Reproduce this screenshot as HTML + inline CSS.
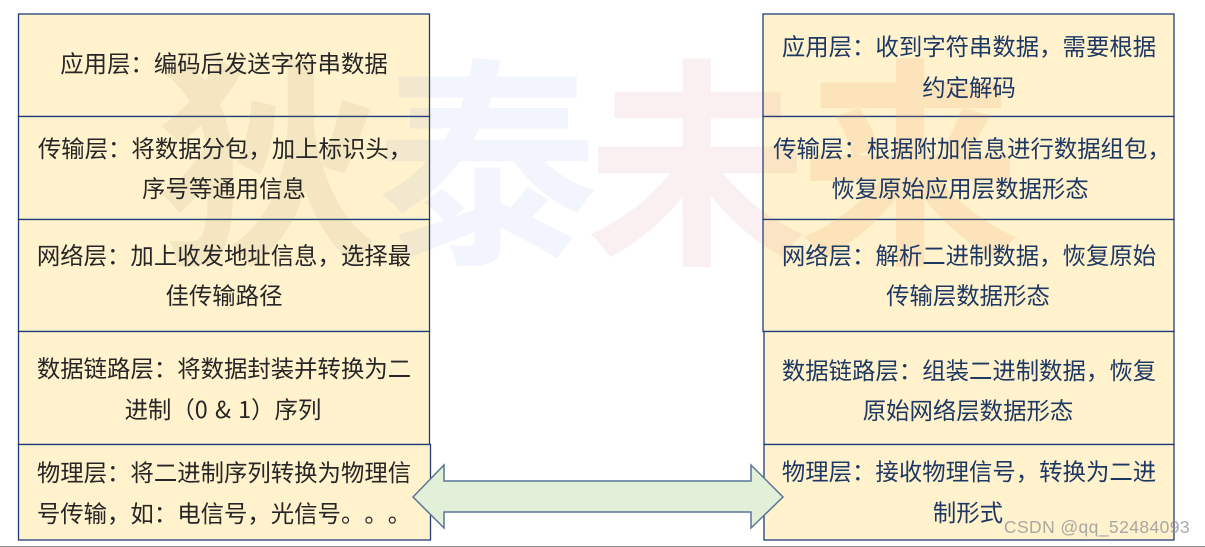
<!DOCTYPE html>
<html lang="zh-CN"><head><meta charset="utf-8"><style>
html,body{margin:0;padding:0;background:#fff;width:1205px;height:547px;overflow:hidden}
svg{display:block}
text{font-family:"Noto Sans CJK SC","Liberation Sans",sans-serif;text-spacing-trim:space-all;font-kerning:none}
.t{font-size:23.4px;text-anchor:middle}
.l{fill:#262626}.r{fill:#1f3864}
.w{font-size:222px;font-weight:700;text-anchor:middle}
</style></head><body>
<svg width="1205" height="547" viewBox="0 0 1205 547" xmlns="http://www.w3.org/2000/svg">
<defs><filter id="b" x="-5%" y="-5%" width="110%" height="110%"><feGaussianBlur stdDeviation="0.35"/></filter></defs>
<rect width="1205" height="547" fill="#fff"/>
<g fill="#fff2cc" stroke="#1f3d7a" stroke-width="1.3">
<rect x="18.5" y="14" width="411" height="102.5"/>
<rect x="18.5" y="116.5" width="411" height="103"/>
<rect x="18.5" y="219.5" width="411" height="112"/>
<rect x="18.5" y="331.5" width="411" height="113"/>
<rect x="18.5" y="444.5" width="412" height="95.5"/>
<rect x="763" y="14" width="411" height="102.5"/>
<rect x="763" y="116.5" width="411" height="103"/>
<rect x="763" y="219.5" width="411" height="112"/>
<rect x="764" y="331.5" width="410" height="113"/>
<rect x="764" y="444.5" width="410" height="95.5"/>
</g>
<g>
<text class="w" x="268" y="247" fill="rgba(150,130,90,.10)">狄</text>
<text class="w" x="487" y="247" fill="rgba(70,110,220,.07)">泰</text>
<text class="w" x="697" y="247" fill="rgba(190,60,90,.08)">未</text>
<text class="w" x="910" y="247" fill="rgba(240,140,70,.14)">来</text>
</g>
<g class="t l" filter="url(#b)">
<text x="224" y="72">应用层&#xFF1A;编码后发送字符串数据</text>
<text x="225" y="157">传输层&#xFF1A;将数据分包&#xFF0C;加上标识头&#xFF0C;</text>
<text x="224" y="197">序号等通用信息</text>
<text x="224" y="264">网络层&#xFF1A;加上收发地址信息&#xFF0C;选择最</text>
<text x="224" y="304">佳传输路径</text>
<text x="224" y="377">数据链路层&#xFF1A;将数据封装并转换为二</text>
<text x="223" y="418" word-spacing="2">进制&#xFF08;0 &amp; 1&#xFF09;序列</text>
<text x="224" y="481">物理层&#xFF1A;将二进制序列转换为物理信</text>
<text x="224" y="522">号传输&#xFF0C;如&#xFF1A;电信号&#xFF0C;光信号&#x3002;&#x3002;&#x3002;</text>
</g>
<g class="t r" filter="url(#b)">
<text x="969" y="55">应用层&#xFF1A;收到字符串数据&#xFF0C;需要根据</text>
<text x="969" y="96">约定解码</text>
<text x="972" y="157">传输层&#xFF1A;根据附加信息进行数据组包&#xFF0C;</text>
<text x="960" y="197">恢复原始应用层数据形态</text>
<text x="969" y="264">网络层&#xFF1A;解析二进制数据&#xFF0C;恢复原始</text>
<text x="968" y="304">传输层数据形态</text>
<text x="969" y="379">数据链路层&#xFF1A;组装二进制数据&#xFF0C;恢复</text>
<text x="968" y="419">原始网络层数据形态</text>
<text x="969" y="480">物理层&#xFF1A;接收物理信号&#xFF0C;转换为二进</text>
<text x="968" y="521">制形式</text>
</g>
<polygon points="413,497 444,465 444,481 751,481 751,465 783,497 751,528 751,512 444,512 444,528" fill="#e2f0d9" stroke="#5b7597" stroke-width="1.5"/>
<text x="1190" y="533" text-anchor="end" font-size="17.5" fill="#9a9a9a" fill-opacity=".85" style="font-family:'Liberation Sans',sans-serif" letter-spacing=".4">CSDN @qq_52484093</text>
<rect x="0" y="546" width="1205" height="1" fill="#8c8c8c"/>
</svg>
</body></html>
